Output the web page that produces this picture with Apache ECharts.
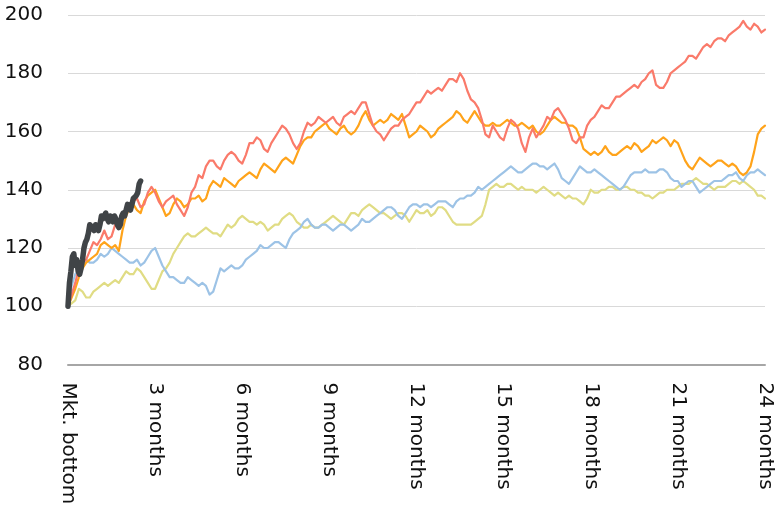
<!DOCTYPE html>
<html>
<head>
<meta charset="utf-8">
<script src="https://cdn.jsdelivr.net/npm/echarts@6/dist/echarts.min.js"></script>
<style>
  html, body { margin: 0; padding: 0; background: #fff; }
  #chart { width: 778px; height: 518px; }
</style>
</head>
<body>
<div id="chart"></div>
<script>
// Значения индекса (дно рынка = 100), шаг 0.125 месяца
const stepMonths = 0.125;
const redSeries = [100,104,108,113,115,116,119,122,121,123,126,123,124,128,127,130,133,133,136,137,134,135,139,141,139,136,134,136,137,138,135,133,131,134,139,141,145,144,148,150,150,148,147,150,152,153,152,150,149,152,156,156,158,157,154,153,156,158,160,162,161,159,156,154,156,160,163,162,163,165,164,163,164,165,163,162,165,166,167,166,168,170,170,166,162,160,159,157,159,161,162,162,164,165,166,168,170,170,172,174,173,174,175,174,176,178,178,177,180,178,174,171,170,168,164,159,158,162,160,158,157,161,164,163,161,156,153,158,161,158,160,162,165,164,167,168,166,164,161,157,156,158,158,162,164,165,167,169,168,168,170,172,172,173,174,175,176,175,177,178,180,181,176,175,175,177,180,181,182,183,184,186,186,185,187,189,190,189,191,192,192,191,193,194,195,196,198,196,195,197,196,194,195];
const orangeSeries = [100,103,106,110,113,115,116,117,118,121,122,121,120,121,119,126,131,134,135,133,132,136,138,139,140,137,134,131,132,135,137,136,134,135,137,137,138,136,137,141,143,142,141,144,143,142,141,143,144,145,146,145,144,147,149,148,147,146,148,150,151,150,149,152,155,157,158,158,160,161,162,163,161,160,159,161,162,160,159,160,162,165,167,164,162,163,164,163,164,166,165,164,166,162,158,159,160,162,161,160,158,159,161,162,163,164,165,167,166,164,163,165,167,165,163,162,162,163,162,162,163,164,163,162,162,163,162,161,162,160,159,160,162,164,165,164,163,163,162,162,161,158,154,153,152,153,152,153,155,153,152,152,153,154,155,154,156,155,153,154,155,157,156,157,158,157,155,157,156,153,150,148,147,149,151,150,149,148,149,150,150,149,148,149,148,146,145,146,148,153,159,161,162];
const blueSeries = [100,107,111,112,114,116,115,115,116,118,117,118,120,119,118,117,116,115,115,116,114,115,117,119,120,117,114,112,110,110,109,108,108,110,109,108,107,108,107,104,105,109,113,112,113,114,113,113,114,116,117,118,119,121,120,120,121,122,122,121,120,123,125,126,127,129,130,128,127,127,128,128,127,126,127,128,128,127,126,127,128,130,129,129,130,131,132,133,134,134,133,131,130,132,134,135,135,134,135,135,134,135,136,136,136,135,134,136,137,137,138,138,139,141,140,141,142,143,144,145,146,147,148,147,146,146,147,148,149,149,148,148,147,148,149,147,144,143,142,144,146,148,147,146,146,147,146,145,144,143,142,141,140,141,143,145,146,146,146,147,146,146,146,147,147,146,144,143,143,141,142,143,143,141,139,140,141,142,143,143,143,144,145,145,146,144,143,145,146,146,147,146,145];
const yellowSeries = [100,101,102,106,105,103,103,105,106,107,108,107,108,109,108,110,112,111,111,113,112,110,108,106,106,109,112,113,115,118,120,122,124,125,124,124,125,126,127,126,125,125,124,126,128,127,128,130,131,130,129,129,128,129,128,126,127,128,128,130,131,132,131,129,128,127,127,128,127,127,128,129,130,131,130,129,128,130,132,132,131,133,134,135,134,133,132,132,131,130,131,132,132,131,129,131,133,132,132,133,131,132,134,134,133,131,129,128,128,128,128,128,129,130,131,135,140,141,142,141,141,142,142,141,140,141,140,140,140,139,140,141,140,139,138,139,138,137,138,137,137,136,135,137,140,139,139,140,140,141,141,140,140,141,141,140,140,139,139,138,138,137,138,139,139,140,140,140,141,142,142,142,143,144,143,142,142,141,140,141,141,141,142,143,143,142,143,142,141,140,138,138,137];

// Текущий цикл (толстая тёмная линия), шаг 0.05 месяца
const grayStep = 0.05;
const graySeries = [100,108,112,117,118,114,116,112,111,113,116,120,122,123,125,128,128,127,126,128,127,126,128,131,130,131,132,130,129,131,130,129,131,130,128,127,128,131,132,131,133,135,134,133,135,137,137,138,139,142,143];

// Подписи осей
const xTicks = [0, 3, 6, 9, 12, 15, 18, 21, 24];
const yTicks = [80, 100, 120, 140, 160, 180, 200];

const toPairs = (values, step) => values.map((v, i) => [i * step, v]);

const makeLine = (name, values, step, color, width) => ({
    name: name,
    type: "line",
    data: toPairs(values, step),
    showSymbol: false,
    symbol: "none",
    lineStyle: { color: color, width: width, join: "round", cap: "round" },
    itemStyle: { color: color },
    emphasis: { disabled: true },
    animation: false
});

const chart = echarts.init(document.getElementById("chart"));

chart.setOption({
    animation: false,
    grid: { left: 68, right: 13, top: 15, bottom: 153.5 },
    xAxis: {
        type: "value",
        min: xTicks[0],
        max: xTicks[xTicks.length - 1],
        interval: 3,
        axisLine: { show: true, lineStyle: { color: "#A6A6A6", width: 2 } },
        axisTick: { show: false },
        splitLine: { show: false },
        axisLabel: {
            rotate: -90,
            margin: 18,
            color: "#111",
            fontFamily: "DejaVu Sans",
            fontSize: 20,
            formatter: (v) => (v === 0 ? "Mkt. bottom" : v + " months")
        }
    },
    yAxis: {
        type: "value",
        min: yTicks[0],
        max: yTicks[yTicks.length - 1],
        interval: 20,
        axisLine: { show: false },
        axisTick: { show: false },
        splitLine: { lineStyle: { color: "#D9D9D9", width: 1 } },
        axisLabel: {
            margin: 25,
            color: "#111",
            fontFamily: "DejaVu Sans",
            fontSize: 20
        }
    },
    series: [
        makeLine("yellow", yellowSeries, stepMonths, "#E0DC84", 2.2),
        makeLine("blue", blueSeries, stepMonths, "#9DC3E6", 2.2),
        makeLine("orange", orangeSeries, stepMonths, "#FFA31A", 2.2),
        makeLine("red", redSeries, stepMonths, "#FA7A6A", 2.2),
        makeLine("current", graySeries, grayStep, "#404447", 5.5)
    ]
});
</script>
</body>
</html>
